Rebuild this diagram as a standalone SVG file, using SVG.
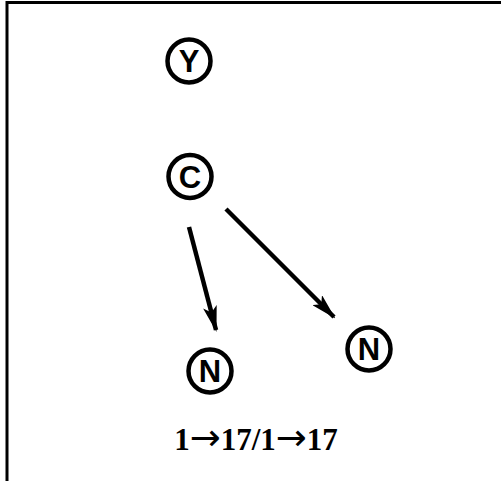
<svg xmlns="http://www.w3.org/2000/svg" width="501" height="481" viewBox="0 0 501 481">
  <style>
    .node circle { fill: none; stroke: #000; stroke-width: 4.5; }
    .node text { font-family: "Liberation Sans", Arial, sans-serif; font-weight: bold; font-size: 31px; text-anchor: middle; fill: #000; }
    .edge { stroke: #000; stroke-width: 4.5; fill: none; marker-end: url(#arrow); }
    .caption { font-family: "Liberation Serif", "Times New Roman", serif; font-weight: bold; font-size: 31px; text-anchor: middle; fill: #000; }
    .caption .arr { font-family: "DejaVu Sans", sans-serif; font-weight: normal; font-size: 37px; }
  </style>
  <defs>
    <marker id="arrow" viewBox="0 0 26 14" refX="24" refY="7" markerWidth="26" markerHeight="14" markerUnits="userSpaceOnUse" orient="auto">
      <path d="M0,0 L26,7 L0,14 L6,7 Z" fill="#000"/>
    </marker>
  </defs>
  <rect width="501" height="481" fill="#fff"/>
  <!-- frame: left and top rules -->
  <path d="M7,481 V2.5 H501" fill="none" stroke="#000" stroke-width="3"/>

  <g id="connectors">
    <line class="edge" x1="189" y1="227" x2="216" y2="330"/>
    <line class="edge" x1="226" y1="209" x2="334" y2="317"/>
  </g>

  <g id="node-Y" class="node">
    <circle cx="189" cy="61" r="21.5"/>
    <text x="189" y="72">Y</text>
  </g>
  <g id="node-C" class="node">
    <circle cx="190" cy="176.5" r="21.5"/>
    <text x="190" y="187.5">C</text>
  </g>
  <g id="node-N1" class="node">
    <circle cx="210" cy="371" r="21.5"/>
    <text x="210" y="382">N</text>
  </g>
  <g id="node-N2" class="node">
    <circle cx="369" cy="349" r="21.5"/>
    <text x="369" y="360">N</text>
  </g>

  <text class="caption" x="256" y="450">1<tspan class="arr">→</tspan>17/1<tspan class="arr">→</tspan>17</text>
</svg>
